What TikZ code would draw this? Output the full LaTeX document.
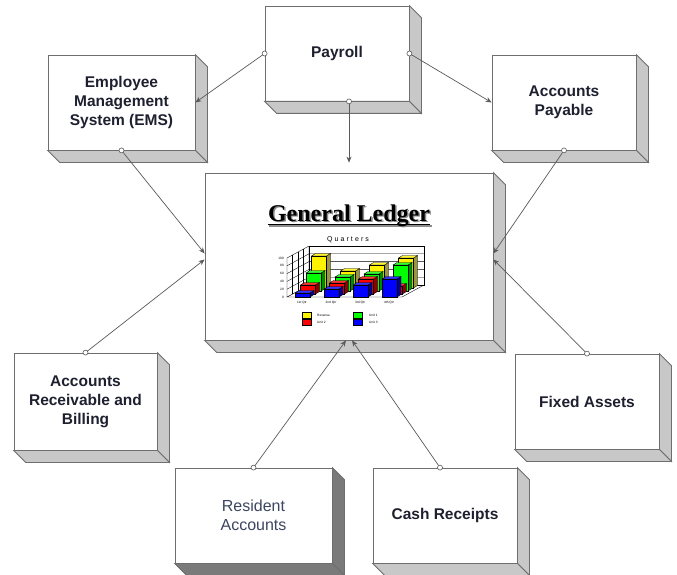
\documentclass[tikz,border=0pt]{standalone}
\usepackage{fontspec}
\setmainfont{Liberation Sans}
\newfontfamily\glfont{Liberation Serif}
\usetikzlibrary{calc,arrows.meta}
\definecolor{boxline}{HTML}{6E6E6E}
\definecolor{sidegray}{HTML}{C8C8C8}
\definecolor{darkside}{HTML}{7A7A7A}
\definecolor{connc}{HTML}{5A5A5A}
\definecolor{txt}{HTML}{1E2030}
\definecolor{ratxt}{HTML}{3C4660}
\tikzset{
  box/.style={draw=boxline, fill=white, line width=0.8pt, minimum width=144pt, minimum height=95pt,
    inner sep=0pt, align=center, text=txt, font=\fontsize{15.5}{19}\selectfont\bfseries},
  side/.style={draw=boxline, line width=0.8pt},
  conn/.style={draw=connc, line width=0.7pt, -{Stealth[length=6pt,width=5pt]}},
  dot/.style={circle, draw=connc, fill=white, inner sep=0pt, minimum size=5pt, line width=0.6pt},
  tiny/.style={font=\fontsize{3.2}{3.6}\selectfont, inner sep=0pt},
  grid/.style={draw=black, line width=0.35pt}
}
\newcommand\boxsides[2]{%
  \filldraw[side,fill=#2] (#1.north east) -- ++(12,12) -- ($(#1.south east)+(12,12)$) -- (#1.south east) -- cycle;
  \filldraw[side,fill=#2] (#1.south west) -- ++(12,12) -- ($(#1.south east)+(12,12)$) -- (#1.south east) -- cycle;}
% bar: x, y(base), height, colour
\newcommand\chartbar[4]{%
  \filldraw[black,line width=0.35pt,fill=#4!55!black] (#1+15,#2) -- (#1+19,#2-2.5) -- (#1+19,#2-#3-2.5) -- (#1+15,#2-#3) -- cycle;
  \filldraw[black,line width=0.35pt,fill=#4!80!white] (#1,#2-#3) -- (#1+15,#2-#3) -- (#1+19,#2-#3-2.5) -- (#1+4,#2-#3-2.5) -- cycle;
  \filldraw[black,line width=0.35pt,fill=#4] (#1,#2) rectangle (#1+15,#2-#3);}
\begin{document}
\begin{tikzpicture}[x=1pt,y=-1pt]
\clip (0,0) rectangle (677,575);
\fill[white] (0,0) rectangle (677,575);

% boxes
\node[box] (payroll) at (337,53.5) {Payroll};
\boxsides{payroll}{sidegray}
\node[box, minimum width=147pt] (ems) at (121.5,102.5) {Employee\\Management\\System (EMS)};
\boxsides{ems}{sidegray}
\node[box] (ap) at (564,102.5) {Accounts\\Payable};
\boxsides{ap}{sidegray}
\node[box, minimum width=288pt, minimum height=167pt] (gl) at (349,256.5) {};
\boxsides{gl}{sidegray}
\node[box, minimum width=143pt, minimum height=97pt] (arb) at (85.5,401.5) {Accounts\\Receivable and\\Billing};
\boxsides{arb}{sidegray}
\node[box] (fa) at (587,401.5) {Fixed Assets};
\boxsides{fa}{sidegray}
\node[box, minimum width=157pt, text=ratxt, font=\fontsize{16}{19}\selectfont] (ra) at (253.5,515.5) {Resident\\Accounts};
\boxsides{ra}{darkside}
\node[box] (cr) at (445,515.5) {Cash Receipts};
\boxsides{cr}{sidegray}

% General Ledger title
\node[anchor=base, inner sep=0pt, text=black!45, font=\glfont\fontsize{24}{28}\selectfont\bfseries] (glts) at (350.5,222.5) {General Ledger};
\draw[black!45, line width=1.8pt] ([yshift=-3.5pt]glts.base west) -- ([yshift=-3.5pt]glts.base east);
\node[anchor=base, inner sep=0pt, text=black, font=\glfont\fontsize{24}{28}\selectfont\bfseries] (glt) at (349,221) {General Ledger};
\draw[black, line width=1.8pt] ([yshift=-3.5pt]glt.base west) -- ([yshift=-3.5pt]glt.base east);

% chart
\node[inner sep=0pt, font=\addfontfeature{LetterSpace=30}\fontsize{7}{8}\selectfont] (qtitle) at (348,240) {Quarters};
\filldraw[grid, fill=white] (287,297) -- (402,297) -- (424,285) -- (309,285) -- cycle;
\filldraw[grid, fill=white] (287,297) -- (287,258) -- (309,246) -- (309,285) -- cycle;
\filldraw[grid, fill=white] (309,285) -- (309,246) -- (424,246) -- (424,285) -- cycle;
\foreach \v in {20,40,60,80} {
  \draw[grid] (287,297-0.39*\v) -- (309,285-0.39*\v) -- (424,285-0.39*\v);
}
\foreach \k in {1,2,3} {
  \draw[grid] (287+5.5*\k,297-3*\k) -- (287+5.5*\k,258-3*\k);
}
\foreach \v in {0,20,40,60,80,100} {
  \node[tiny, anchor=east] at (284,297-0.39*\v) {\v};
}
% yellow (back row)
\chartbar{311.5}{288}{32}{yellow}
\chartbar{340.5}{288}{17}{yellow}
\chartbar{369.5}{288}{23}{yellow}
\chartbar{398.5}{288}{30}{yellow}
% green
\chartbar{306}{291}{18}{green}
\chartbar{335}{291}{14}{green}
\chartbar{364}{291}{17}{green}
\chartbar{393}{291}{26}{green}
% red
\chartbar{300.5}{294}{9}{red}
\chartbar{329.5}{294}{11}{red}
\chartbar{358.5}{294}{15}{red}
\chartbar{387.5}{294}{8}{red}
% blue (front row)
\chartbar{295}{297}{4}{blue}
\chartbar{324}{297}{8}{blue}
\chartbar{353}{297}{12}{blue}
\chartbar{382}{297}{18}{blue}
\node[tiny] at (302,303) {1st Qtr};
\node[tiny] at (331,303) {2nd Qtr};
\node[tiny] at (360,303) {3rd Qtr};
\node[tiny] at (389,303) {4th Qtr};
% legend
\filldraw[grid, fill=yellow] (302,312) rectangle (311,318);
\filldraw[grid, fill=red] (302,319) rectangle (311,325);
\filldraw[grid, fill=green] (353,312) rectangle (362,318);
\filldraw[grid, fill=blue] (353,319) rectangle (362,325);
\node[tiny, anchor=west] at (317,315) {Revenue};
\node[tiny, anchor=west] at (317,322) {Unit 2};
\node[tiny, anchor=west] at (369,315) {Unit 1};
\node[tiny, anchor=west] at (369,322) {Unit 3};

% connectors
\draw[conn] (payroll.west) -- (ems.east);
\draw[conn] (payroll.east) -- (ap.west);
\draw[conn, shorten >=10pt] (payroll.south -| gl.north) -- (gl.north);
\draw[conn] (ems.south) -- ([yshift=3pt]gl.west);
\draw[conn] (arb.north) -- ([yshift=-3pt]gl.west);
\draw[conn] (ap.south) -- ([yshift=3pt]gl.east);
\draw[conn] (fa.north) -- ([yshift=-3pt]gl.east);
\draw[conn] (ra.north) -- ([xshift=-3pt]gl.south);
\draw[conn] ([xshift=-5pt]cr.north) -- ([xshift=3pt]gl.south);

% connector start dots
\node[dot] (d1) at (payroll.west) {};
\node[dot] (d2) at (payroll.east) {};
\node[dot] (d3) at (payroll.south -| gl.north) {};
\node[dot] (d4) at (ems.south) {};
\node[dot] (d5) at (arb.north) {};
\node[dot] (d6) at (ap.south) {};
\node[dot] (d7) at (fa.north) {};
\node[dot] (d8) at (ra.north) {};
\node[dot] (d9) at ([xshift=-5pt]cr.north) {};
\end{tikzpicture}
\end{document}
